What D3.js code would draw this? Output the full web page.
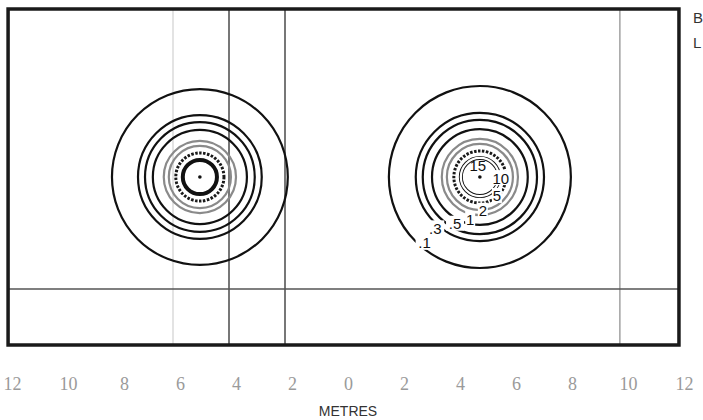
<!DOCTYPE html>
<html><head><meta charset="utf-8">
<script src="https://cdn.jsdelivr.net/npm/d3@7"></script>
<style>body{margin:0;background:#fff}svg{display:block}</style>
</head><body><svg id="c" width="703" height="420"></svg>
<script>
// ---- data (metres) ----
const tickValues = [-12,-10,-8,-6,-4,-2,0,2,4,6,8,10,12];
const tickLabels = ["12","10","8","6","4","2","0","2","4","6","8","10","12"];
const levels = [0.1,0.3,0.5,1,2,5,10,15];
const levelLabels = [".1",".3",".5","1","2","5","10","15"];
const sourceX = [-5.29, 4.71];
const sourceY = [6.0, 6.0];
const radiiLeft  = [3.14,2.21,1.96,1.68,1.29,1.11,0.86,0.61];
const radiiRight = [3.25,2.29,2.04,1.71,1.36,1.18,0.93,0.68];
const labelAngles = [130,131,118,103,85,48,3,-100];
const labelRadii  = [3.07,2.43,1.89,1.54,1.21,0.91,0.75,0.43];
const vLinesDark = [-4.25,-2.25];
const vLinesLight = [-6.25];
const vLinesMid = [9.71];
const hLines = [2.0];
const frameX = [-12.14, 11.82];
const frameY = [0, 12];
const sideText = ["B","L"];
const axisTitle = "METRES";

// ---- scales ----
const x = d3.scaleLinear().domain([-12,12]).range([12,684]);
const y = d3.scaleLinear().domain([0,12]).range([345,9]);
const px = d3.scaleLinear().domain([0,1]).range([0,28]); // metre -> pixel length

const svg = d3.select("#c");
const g = svg.append("g");

// grid lines
const x0 = x(frameX[0]), x1 = x(frameX[1]), yT = y(frameY[1]), yB = y(frameY[0]);
g.selectAll(".vl").data(vLinesLight).join("line")
  .attr("x1",d=>x(d)).attr("x2",d=>x(d)).attr("y1",yT).attr("y2",yB)
  .attr("stroke","#d0d0d0").attr("stroke-width",1.2);
g.selectAll(".vm").data(vLinesMid).join("line")
  .attr("x1",d=>x(d)).attr("x2",d=>x(d)).attr("y1",yT).attr("y2",yB)
  .attr("stroke","#9a9a9a").attr("stroke-width",1.4);
g.selectAll(".vd").data(vLinesDark).join("line")
  .attr("x1",d=>x(d)).attr("x2",d=>x(d)).attr("y1",yT).attr("y2",yB)
  .attr("stroke","#555").attr("stroke-width",1.6);
g.selectAll(".hl").data(hLines).join("line")
  .attr("x1",x0).attr("x2",x1).attr("y1",d=>y(d)).attr("y2",d=>y(d))
  .attr("stroke","#555").attr("stroke-width",1.6);

// contours
const styleFor = i => {
  if (i <= 3) return {c:"#111", w:2.2, dash:null};
  if (i <= 5) return {c:"#8a8a8a", w:2.2, dash:null};
  if (i === 6) return {c:"#1a1a1a", w:3, dash:"2.5,1.5"};
  return {c:"#111", w:4, dash:null};
};
const allRadii = [radiiLeft, radiiRight];
sourceX.forEach((sx, si) => {
  const cx = x(sx), cy = y(sourceY[si]);
  const rr = allRadii[si];
  const grp = g.append("g");
  levels.forEach((lv, i) => {
    const s = styleFor(i);
    grp.append("circle").attr("cx",cx).attr("cy",cy).attr("r",px(rr[i]))
      .attr("fill","none").attr("stroke",s.c).attr("stroke-width",s.w)
      .attr("stroke-dasharray",s.dash);
  });
  if (si === 1) {
    grp.append("circle").attr("cx",cx).attr("cy",cy).attr("r",px(rr[7]))
      .attr("fill","none").attr("stroke","#fff").attr("stroke-width",2.2);
  }
  grp.append("circle").attr("cx",cx).attr("cy",cy).attr("r",1.8).attr("fill","#111");
});

// labels on right source
const lx = x(sourceX[1]), ly = y(sourceY[1]);
levelLabels.forEach((t, i) => {
  const a = labelAngles[i]*Math.PI/180;
  const r = px(labelRadii[i]);
  const tx = lx + r*Math.cos(a), ty = ly + r*Math.sin(a);
  const w = t.length*8 + 2;
  if (i !== 7) g.append("rect").attr("x",tx-w/2).attr("y",ty-8).attr("width",w).attr("height",15).attr("fill","#fff");
  g.append("text").attr("x",tx).attr("y",ty).attr("text-anchor","middle")
    .attr("dominant-baseline","central")
    .attr("font-family","Liberation Sans, Arial, sans-serif").attr("font-size",15)
    .attr("fill","#111").text(t);
});

// frame
g.append("rect").attr("x",x0).attr("y",yT).attr("width",x1-x0).attr("height",yB-yT)
  .attr("fill","none").attr("stroke","#1a1a1a").attr("stroke-width",3.5);

// axis tick labels
const axis = d3.axisBottom(x).tickValues(tickValues)
  .tickFormat((d,i)=>tickLabels[i]).tickSize(0).tickPadding(0);
const ag = svg.append("g").attr("transform","translate(0,377)").call(axis);
ag.select(".domain").remove();
ag.selectAll("text").attr("font-family","Liberation Serif, serif").attr("font-size",18)
  .attr("fill","#9a9a9a").attr("dy","0.7em");

svg.append("text").attr("x",x(0)).attr("y",416).attr("text-anchor","middle")
  .attr("font-family","Liberation Sans Narrow, Liberation Sans, Arial, sans-serif")
  .attr("font-size",14).attr("fill","#333").text(axisTitle);

svg.selectAll(".side").data(sideText).join("text")
  .attr("x",693).attr("y",(d,i)=>23+i*25)
  .attr("font-family","Liberation Sans, Arial, sans-serif").attr("font-size",15)
  .attr("fill","#333").text(d=>d);
</script>
</body></html>
